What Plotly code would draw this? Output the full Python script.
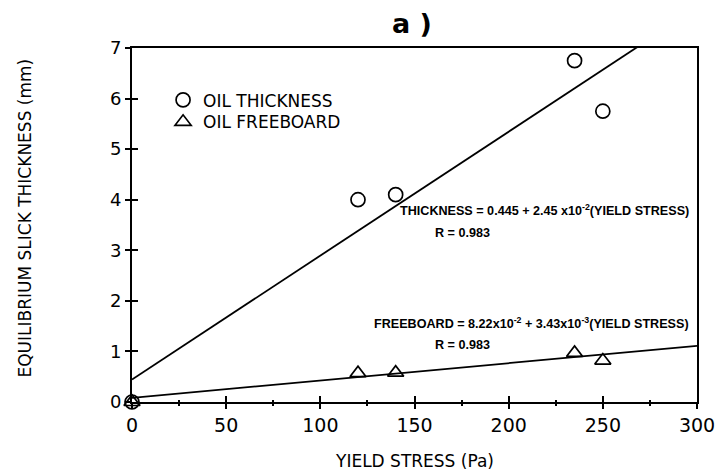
import plotly.graph_objects as go

# Measured equilibrium slick thickness versus yield stress
yield_stress = [0, 120, 140, 235, 250]
oil_thickness = [0.0, 4.0, 4.1, 6.75, 5.75]
oil_freeboard = [0.0, 0.57, 0.58, 0.97, 0.82]

# Least-squares fits (coefficients as printed on the chart)
thk_a, thk_b = 0.445, 2.45e-2
fb_a, fb_b = 8.22e-2, 3.43e-3
fit_x = [0, 300]
thk_fit = [thk_a + thk_b * x for x in fit_x]
fb_fit = [fb_a + fb_b * x for x in fit_x]

x_ticks = [0, 50, 100, 150, 200, 250, 300]
y_ticks = [0, 1, 2, 3, 4, 5, 6, 7]

FONT = "DejaVu Sans"
EQ_FONT = "Liberation Sans"
EQ_SIZE = 12.6

fig = go.Figure()

fig.add_trace(go.Scatter(x=fit_x, y=thk_fit, mode="lines", showlegend=False,
                         line=dict(color="black", width=1.8), hoverinfo="skip"))
fig.add_trace(go.Scatter(x=fit_x, y=fb_fit, mode="lines", showlegend=False,
                         line=dict(color="black", width=1.8), hoverinfo="skip"))

fig.add_trace(go.Scatter(
    x=yield_stress, y=oil_thickness, mode="markers", name="OIL THICKNESS",
    cliponaxis=False, legend="legend",
    marker=dict(symbol="circle-open", size=14, color="black", line=dict(width=1.7))))
fig.add_trace(go.Scatter(
    x=yield_stress, y=oil_freeboard, mode="markers", name="OIL FREEBOARD",
    cliponaxis=False, legend="legend2",
    marker=dict(symbol="triangle-up-open", size=14, color="black", line=dict(width=1.7))))

axis_common = dict(showgrid=False, zeroline=False, color="black")
legend_common = dict(xanchor="left", yanchor="top", bgcolor="rgba(0,0,0,0)",
                     font=dict(size=17, family=FONT), itemwidth=30)

fig.update_layout(
    width=727, height=474,
    margin=dict(l=132, r=22, t=48, b=72),
    paper_bgcolor="white", plot_bgcolor="white",
    font=dict(family=FONT, color="black"),
    showlegend=True,
    legend=dict(x=0.055, y=0.903, **legend_common),
    legend2=dict(x=0.055, y=0.841, **legend_common),
    xaxis=dict(range=[0, 300], tickvals=x_ticks, ticks="outside", ticklen=5,
               tickwidth=1.8, showline=True, mirror=True, linewidth=1.8,
               linecolor="black", tickfont=dict(size=19, family=FONT),
               minor=dict(dtick=25, ticks="outside", ticklen=2, tickwidth=1.8,
                          tickcolor="black"),
               **axis_common),
    yaxis=dict(range=[0, 7], tickvals=y_ticks, ticks="outside", ticklen=5,
               tickwidth=1.8, showline=True, mirror=True, linewidth=1.8,
               linecolor="black", tickfont=dict(size=18, family=FONT),
               **axis_common),
    xaxis2=dict(range=[0, 300], overlaying="x", anchor="y", side="bottom",
                tickvals=x_ticks, ticks="inside", ticklen=6, tickwidth=1.8,
                tickcolor="black", showticklabels=False, showline=False,
                minor=dict(dtick=25, ticks="inside", ticklen=2, tickwidth=1.8,
                           tickcolor="black"),
                **axis_common),
    yaxis2=dict(range=[0, 7], overlaying="y", anchor="x", side="left",
                tickvals=y_ticks, ticks="inside", ticklen=6, tickwidth=1.8,
                tickcolor="black", showticklabels=False, showline=False,
                **axis_common),
)

# Invisible trace that activates the inner tick axes
fig.add_trace(go.Scatter(x=[None], y=[None], xaxis="x2", yaxis="y2",
                         showlegend=False, hoverinfo="skip"))

annotations = [
    dict(text="<b>a )</b>", xref="paper", yref="paper", x=0.496, y=1.07,
         xanchor="center", yanchor="middle", showarrow=False,
         font=dict(size=27, family=FONT)),
    dict(text="EQUILIBRIUM SLICK THICKNESS (mm)", xref="paper", yref="paper",
         x=-0.19, y=0.52, xanchor="center", yanchor="middle", textangle=-90,
         showarrow=False, font=dict(size=17, family=FONT)),
    dict(text="YIELD STRESS (Pa)", xref="paper", yref="paper",
         x=0.5, y=-0.168, xanchor="center", yanchor="middle",
         showarrow=False, font=dict(size=17, family=FONT)),
    dict(text="<b>THICKNESS = 0.445 + 2.45 x10<sup>-2</sup>(YIELD STRESS)</b>",
         xref="x", yref="y", x=141.5, y=3.8, xanchor="left", yanchor="middle",
         showarrow=False, font=dict(size=EQ_SIZE, family=EQ_FONT)),
    dict(text="<b>R = 0.983</b>", xref="x", yref="y", x=160, y=3.35,
         xanchor="left", yanchor="middle", showarrow=False,
         font=dict(size=EQ_SIZE, family=EQ_FONT)),
    dict(text="<b>FREEBOARD = 8.22x10<sup>-2</sup> + 3.43x10<sup>-3</sup>(YIELD STRESS)</b>",
         xref="x", yref="y", x=127.5, y=1.56, xanchor="left", yanchor="middle",
         showarrow=False, font=dict(size=EQ_SIZE, family=EQ_FONT)),
    dict(text="<b>R = 0.983</b>", xref="x", yref="y", x=160, y=1.13,
         xanchor="left", yanchor="middle", showarrow=False,
         font=dict(size=EQ_SIZE, family=EQ_FONT)),
]
fig.update_layout(annotations=annotations)

fig.write_html("out.html")
